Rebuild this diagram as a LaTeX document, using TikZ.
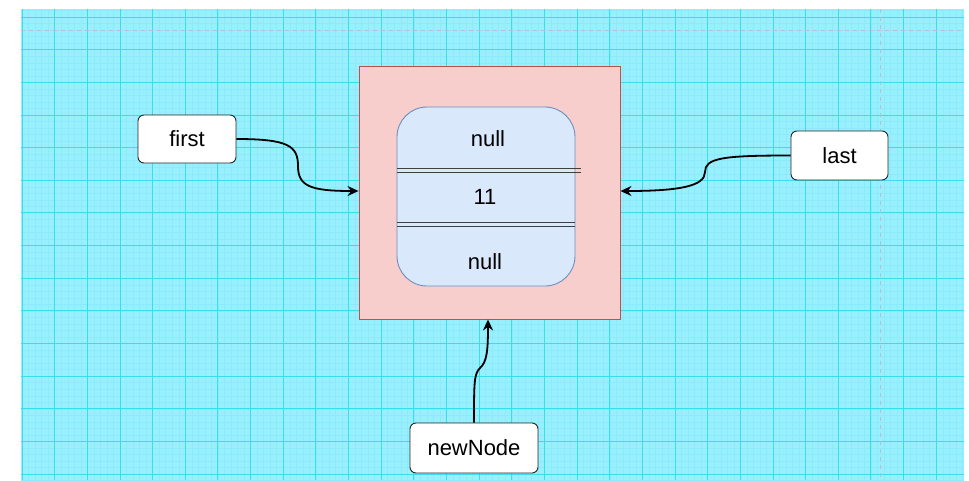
\documentclass[tikz,border=0pt]{standalone}
\usepackage{fontspec}
\setmainfont{Liberation Sans}
\usetikzlibrary{arrows.meta,calc}
\definecolor{gridbg}{HTML}{98EFFD}
\definecolor{gridmajor}{HTML}{38DDEE}
\definecolor{gridminor}{HTML}{8CEAFA}
\definecolor{pinkfill}{HTML}{F8CECC}
\definecolor{pinkdraw}{HTML}{B85450}
\definecolor{bluefill}{HTML}{DAE8FC}
\definecolor{bluedraw}{HTML}{6C8EBF}
\tikzset{
  label box/.style={draw=black!85, fill=white, rounded corners=6pt, line width=0.9pt, inner sep=0pt, font=\fontsize{22}{26}\selectfont},
  field/.style={font=\fontsize{22}{26}\selectfont, inner sep=0pt},
  conn/.style={draw=black, line width=1.8pt, -{Stealth[length=11pt,width=10pt]}},
  dbl/.style={draw=black!75, line width=0.9pt},
}
\begin{document}
\begin{tikzpicture}[x=1pt,y=-1pt]
\useasboundingbox (0,0) rectangle (969,480);
\fill[white] (0,0) rectangle (969,480);
\fill[gridbg] (21,9) rectangle (964,480);
% minor grid
\foreach \i in {0,...,145} {
  \pgfmathsetmacro\xx{22+6.53*\i}
  \ifdim\xx pt<964pt \draw[gridminor, line width=0.4pt] (\xx,9) -- (\xx,480); \fi
}
\foreach \i in {-1,...,72} {
  \pgfmathsetmacro\yy{17+6.53*\i}
  \ifdim\yy pt>9pt \draw[gridminor, line width=0.4pt] (21,\yy) -- (964,\yy); \fi
}
% major grid
\foreach \i in {0,...,28} {
  \draw[gridmajor, line width=0.9pt] ({22+32.65*\i},9) -- ({22+32.65*\i},480);
}
\foreach \i in {0,...,14} {
  \draw[gridmajor, line width=0.9pt] (21,{17+32.65*\i}) -- (964,{17+32.65*\i});
}
% page-break dashed lines
\draw[black!25, dashed, line width=0.7pt, dash pattern=on 4pt off 4pt] (21,30) -- (964,30);
\draw[black!25, dashed, line width=0.7pt, dash pattern=on 4pt off 4pt] (880,9) -- (880,480);

% outer node box
\node[draw=pinkdraw, fill=pinkfill, line width=0.9pt, minimum width=261pt, minimum height=253pt, inner sep=0pt] (outer) at (489.5,192.5) {};
% inner rounded box
\node[draw=bluedraw, fill=bluefill, line width=0.9pt, rounded corners=30pt, minimum width=178pt, minimum height=179pt, inner sep=0pt] (inner) at (486,196.5) {};
% double separators
\coordinate (s1a) at (397,168.5); \coordinate (s1b) at (581,168.5);
\coordinate (s1c) at (397,172); \coordinate (s1d) at (581,172);
\coordinate (s2a) at (397,222.5); \coordinate (s2b) at (575,222.5);
\coordinate (s2c) at (397,226); \coordinate (s2d) at (575,226);
\draw[dbl] (s1a) -- (s1b);
\draw[dbl] (s1c) -- (s1d);
\draw[dbl] (s2a) -- (s2b);
\draw[dbl] (s2c) -- (s2d);
\node[field] (prev) at (488,139) {null};
\node[field] (item) at (485,197) {11};
\node[field] (next) at (485,262) {null};

% pointer boxes
\node[label box, minimum width=98pt, minimum height=48pt] (first) at (187,139) {first};
\node[label box, minimum width=97pt, minimum height=49pt] (last) at (839.5,155.5) {last};
\node[label box, minimum width=128pt, minimum height=50pt] (newnode) at (474,448) {newNode};

% connectors
\coordinate (fmid) at (298,166);
\coordinate (lmid) at (705,172);
\coordinate (nmid) at (480,368);
\draw[conn] (first.east) .. controls +(52,0) and (298,146) .. (fmid)
  .. controls (298,186) and (310,191) .. (outer.west |- 0,191);
\draw[conn] (last.west) .. controls +(-68,0) and (705,158) .. (lmid)
  .. controls (705,186) and (680,191) .. (outer.east |- 0,191);
\draw[conn] (newnode.north) .. controls +(0,-40) and (474,374) .. (nmid)
  .. controls (487,362) and (488,350) .. (outer.south -| 488,0);
\end{tikzpicture}
\end{document}
